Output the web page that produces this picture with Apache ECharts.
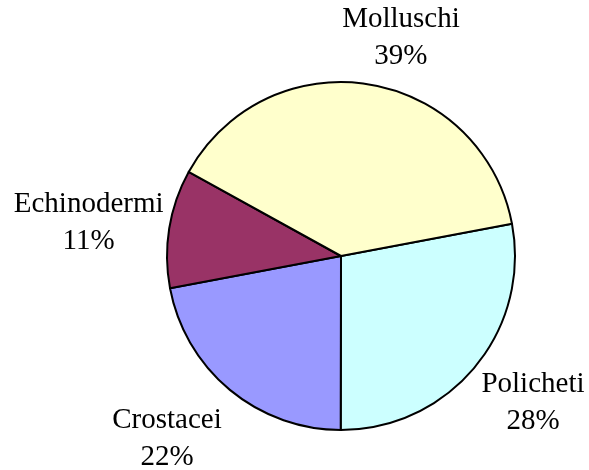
<!DOCTYPE html>
<html>
<head>
<meta charset="utf-8">
<script src="https://cdn.jsdelivr.net/npm/echarts@6/dist/echarts.min.js"></script>
<style>
  html, body { margin: 0; padding: 0; background: #fff; }
  #main { width: 589px; height: 470px; }
</style>
</head>
<body>
<div id="main"></div>
<script>
var categories = ['Policheti', 'Crostacei', 'Echinodermi', 'Molluschi'];
var values = [28, 22, 11, 39];
var colors = ['#CCFFFF', '#9999FF', '#993366', '#FFFFCC'];
// per-slice label placement tweaks (line length, shift along the line)
var lineLen = [56, 64, 35, 47];
var shift = [-70, -63, -39, -60];

var myChart = echarts.init(document.getElementById('main'));

var data = categories.map(function (name, i) {
    return {
        name: name,
        value: values[i],
        itemStyle: { color: colors[i] },
        label: { distanceToLabelLine: shift[i] },
        labelLine: { length: lineLen[i], length2: 0 }
    };
});

var option = {
    animation: false,
    series: [
        {
            type: 'pie',
            center: [341, 256],
            radius: 174,
            startAngle: 10.7,
            clockwise: true,
            percentPrecision: 0,
            avoidLabelOverlap: false,
            itemStyle: {
                borderColor: '#000',
                borderWidth: 2
            },
            label: {
                show: true,
                position: 'outside',
                width: 170,
                formatter: '{n|{b}}\n{n|{d}%}',
                rich: {
                    n: {
                        align: 'center',
                        fontFamily: 'Liberation Serif',
                        fontSize: 29,
                        lineHeight: 37,
                        color: '#000'
                    }
                }
            },
            labelLine: { show: false },
            emphasis: { disabled: true },
            data: data
        }
    ]
};
myChart.setOption(option);
</script>
</body>
</html>
